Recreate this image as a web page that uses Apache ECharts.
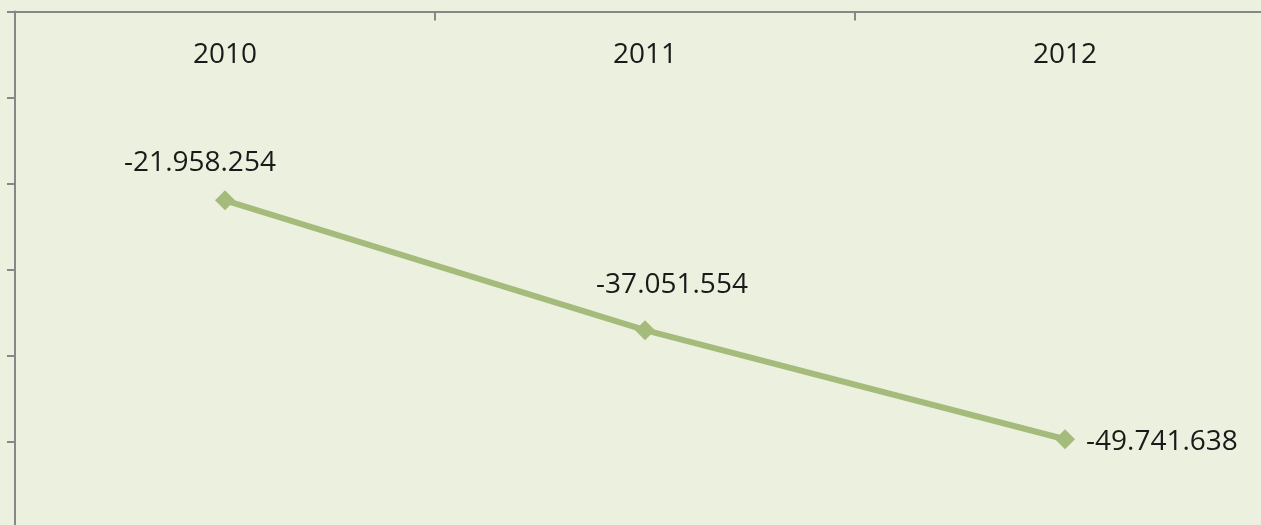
<!DOCTYPE html>
<html>
<head>
<meta charset="utf-8">
<script src="https://cdn.jsdelivr.net/npm/echarts@6/dist/echarts.min.js"></script>
<style>
    html, body { margin: 0; padding: 0; background: #EBF1DE; }
    #chart { width: 1261px; height: 525px; }
</style>
</head>
<body>
<div id="chart"></div>
<script type="text/javascript">
    // 数据
    var years = ['2010', '2011', '2012'];
    var values = [-21958254, -37051554, -49741638];

    function fmt(v) {
        // 千位用点分隔
        var s = Math.abs(v).toString().replace(/\B(?=(\d{3})+(?!\d))/g, '.');
        return (v < 0 ? '-' : '') + s;
    }

    // 标签位置（模仿原图）
    var labelPos = [
        { position: 'top', offset: [-25, -8] },
        { position: 'top', offset: [27, -16] },
        { position: 'right', offset: [6, 3] }
    ];

    var seriesData = values.map(function (v, i) {
        return { value: v, label: labelPos[i] };
    });

    var myChart = echarts.init(document.getElementById('chart'));
    var option = {
        backgroundColor: '#EBF1DE',
        animation: false,
        grid: { left: 15, top: 11.5, width: 1260, height: 516, outerBoundsMode: 'none', containLabel: false },
        xAxis: {
            type: 'category',
            position: 'top',
            data: years,
            boundaryGap: true,
            axisLine: { lineStyle: { color: '#878787', width: 2 } },
            axisTick: { show: true, inside: true, length: 9, lineStyle: { color: '#878787', width: 2 } },
            axisLabel: { inside: true, margin: 30, color: '#1a1a1a', fontSize: 28, fontFamily: 'Open Sans' },
            splitLine: { show: false }
        },
        yAxis: {
            type: 'value',
            min: -60000000,
            max: 0,
            interval: 10000000,
            axisLine: { show: true, lineStyle: { color: '#878787', width: 2 } },
            axisTick: { show: true, length: 8, lineStyle: { color: '#878787', width: 2 } },
            axisLabel: { show: false },
            splitLine: { show: false }
        },
        series: [{
            type: 'line',
            data: seriesData,
            symbol: 'diamond',
            symbolSize: 20,
            lineStyle: { color: '#A5BB7B', width: 6 },
            itemStyle: { color: '#A5BB7B' },
            label: {
                show: true,
                color: '#1a1a1a',
                fontSize: 28,
                fontFamily: 'Open Sans',
                formatter: function (p) { return fmt(p.value); }
            }
        }]
    };
    myChart.setOption(option, true);
</script>
</body>
</html>
